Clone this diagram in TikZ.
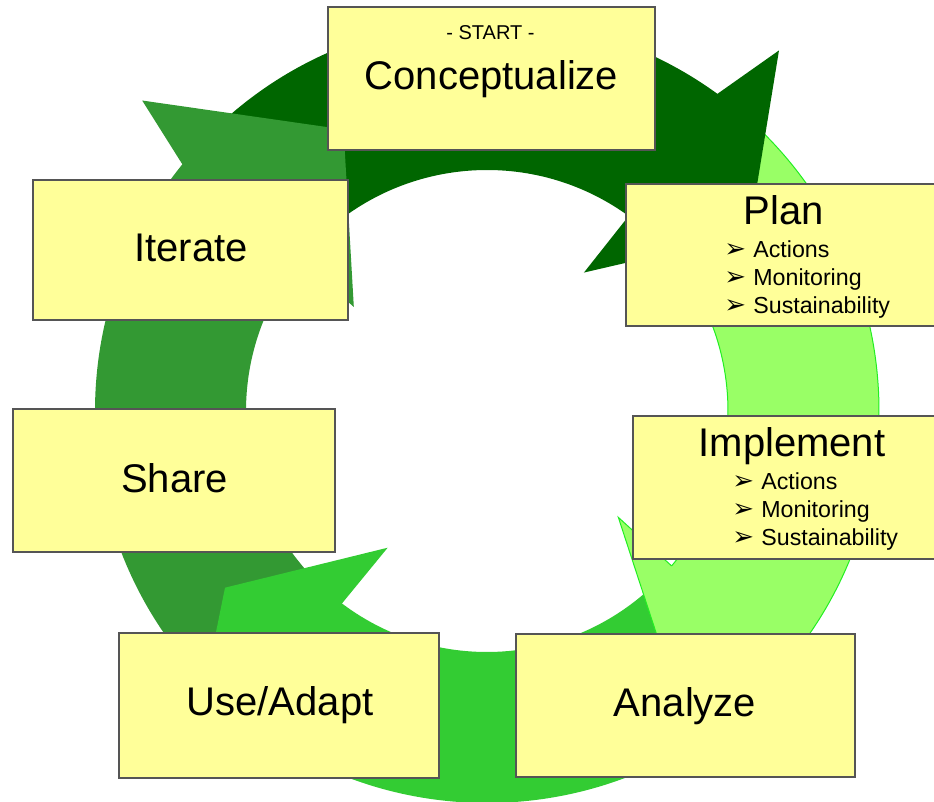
\documentclass[tikz,border=0pt]{standalone}
\usepackage{fontspec}
\setmainfont{Liberation Sans}
\newfontfamily\bulletFont{DejaVu Sans}
\usetikzlibrary{positioning, calc}

\definecolor{conceptGreen}{HTML}{006600}
\definecolor{planGreen}{HTML}{99FF66}
\definecolor{planEdge}{HTML}{22EE22}
\definecolor{analyzeGreen}{HTML}{33CC33}
\definecolor{shareGreen}{HTML}{339933}
\definecolor{noteYellow}{HTML}{FFFF99}
\definecolor{boxEdge}{HTML}{555555}

% ring radii (picture units)
\newcommand{\ringOut}{392}
\newcommand{\ringIn}{241}
\newcommand{\ringMid}{316}
\newcommand{\barbLen}{72}
% curved shaft: style, start angle, end angle
\newcommand{\ArcShaft}[3]{
    \path[#1] (#2:\ringOut) arc[start angle=#2, end angle=#3, radius=\ringOut]
        -- (#3:\ringIn) arc[start angle=#3, end angle=#2, radius=\ringIn] -- cycle;
}
% arrow head: style, base angle, tip angle
\newcommand{\ArcHead}[3]{
    \path[#1] ({#2+1}:\ringIn) -- ({#2+2}:{\ringIn-\barbLen}) -- (#3:\ringMid)
        -- ({#2-2}:{\ringOut+\barbLen}) -- ({#2+1}:\ringOut);
}
\newcommand{\ArrowBullet}{\makebox[14.5pt][l]{\bulletFont\fontsize{13}{13}\selectfont ➢}}

\tikzset{
    % Ring arrows
    darkArc/.style={fill=conceptGreen},
    lightArc/.style={fill=planGreen, draw=planEdge, line width=0.5pt},
    midArc/.style={fill=analyzeGreen},
    leafArc/.style={fill=shareGreen},
    % Step boxes
    stepBox/.style={rectangle, fill=noteYellow, draw=boxEdge, line width=1pt, inner sep=0pt},
    stepTitle/.style={font=\fontsize{20}{24}\selectfont, anchor=base, inner sep=0pt},
    startTag/.style={font=\fontsize{10}{12}\selectfont, anchor=base, inner sep=0pt},
    listItem/.style={font=\fontsize{11.6}{14}\selectfont, anchor=base west, inner sep=0pt}
}

\begin{document}
\begin{tikzpicture}[x=0.5pt, y=-0.5pt]
    \useasboundingbox (0,0) rectangle (934,802);
    \clip (0,0) rectangle (934,802);

    % Ring: all shafts, then heads on top
    \begin{scope}[shift={(487,411)}, yscale=-1]
        \ArcShaft{darkArc}{136}{53}
        \ArcShaft{lightArc}{45}{-41}
        \ArcShaft{midArc}{-47}{-128}
        \ArcShaft{leafArc}{-136}{-220}
        \ArcHead{darkArc}{53}{34}
        \ArcHead{lightArc}{-41}{-55}
        \ArcHead{midArc}{-128}{-146}
        \ArcHead{leafArc}{-220}{-243}
    \end{scope}

    % Boxes
    \node[stepBox, minimum width=163.5pt, minimum height=71.5pt] (concept) at (491.5,78.5) {};
    \node[stepBox, minimum width=163.5pt, minimum height=71pt] (plan) at (789.5,255) {};
    \node[stepBox, minimum width=163.5pt, minimum height=71.5pt] (impl) at (796.5,487.5) {};
    \node[stepBox, minimum width=169.5pt, minimum height=71.5pt] (analyze) at (685.5,705.5) {};
    \node[stepBox, minimum width=160pt, minimum height=72.5pt] (useAdapt) at (279,705.5) {};
    \node[stepBox, minimum width=161pt, minimum height=71.5pt] (share) at (174,480.5) {};
    \node[stepBox, minimum width=157.5pt, minimum height=70pt] (iterate) at (190.5,250) {};

    % Labels
    \node[startTag] (startTxt) at (490.5,40) {- START -};
    \node[stepTitle] (conceptTxt) at (491.5,90) {Conceptualize};
    \node[stepTitle] (planTxt) at (783.5,225) {Plan};
    \node[stepTitle] (implTxt) at (792,457) {Implement};
    \node[stepTitle] (analyzeTxt) at (685,717) {Analyze};
    \node[stepTitle] (useTxt) at (280,716) {Use/Adapt};
    \node[stepTitle] (shareTxt) at (174.5,493) {Share};
    \node[stepTitle] (iterTxt) at (191,262) {Iterate};

    % Bullet lists
    \foreach \entry [count=\i] in {Actions, Monitoring, Sustainability} {
        \node[listItem] (planItem\i) at (724,230+28*\i) {\ArrowBullet\entry};
        \node[listItem] (implItem\i) at (732,462+28*\i) {\ArrowBullet\entry};
    }
\end{tikzpicture}
\end{document}
